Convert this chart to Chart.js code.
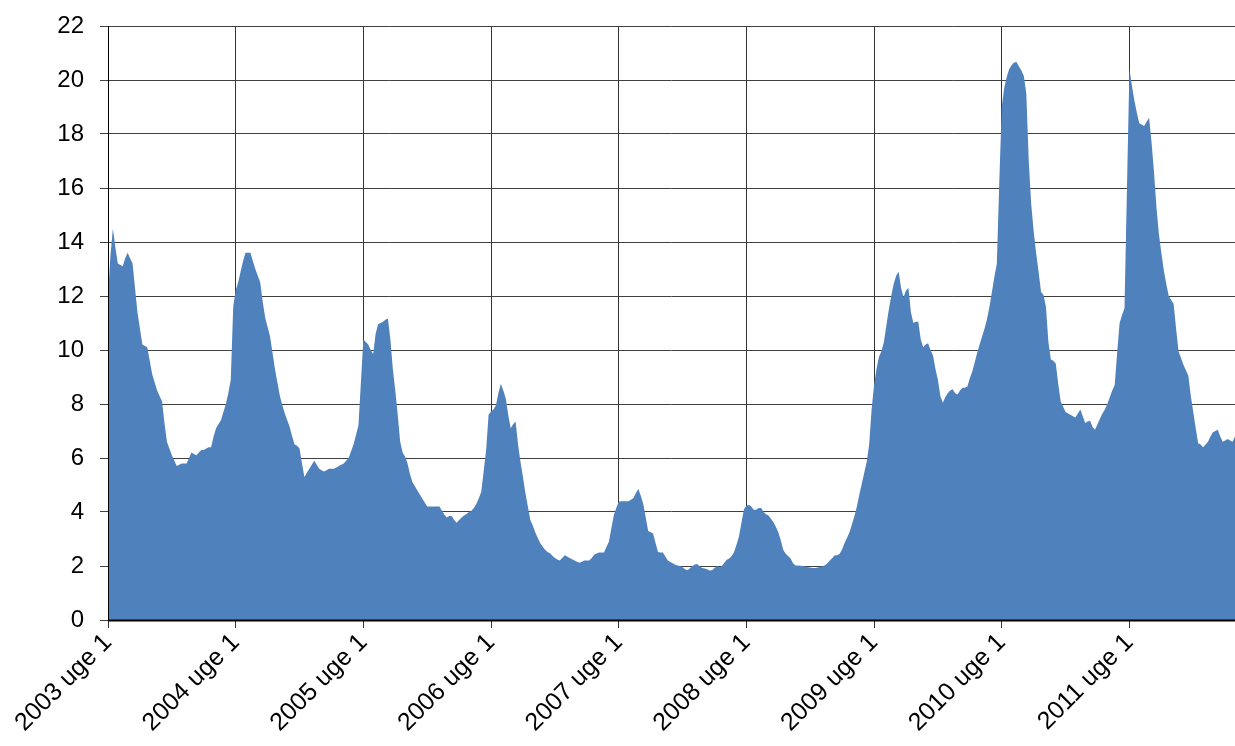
<!DOCTYPE html>
<html>
<head>
<meta charset="utf-8">
<script src="https://cdn.jsdelivr.net/npm/chart.js@4.4.1/dist/chart.umd.min.js"></script>
<style>
  html, body { margin: 0; padding: 0; background: #fff; }
  #wrap { width: 1235px; height: 746px; }
</style>
</head>
<body>
<div id="wrap"><canvas id="fluChart"></canvas></div>
<script>
const years = [2003, 2004, 2005, 2006, 2007, 2008, 2009, 2010, 2011];
const weeksShown = [52, 52, 52, 52, 52, 52, 52, 52, 44];

const w2003 = [12.0, 13.5, 14.5, 13.8, 13.2, 13.15, 13.1, 13.4, 13.6, 13.4,
  13.2, 12.3, 11.4, 10.8, 10.2, 10.15, 10.1, 9.6, 9.1, 8.8,
  8.5, 8.3, 8.1, 7.3, 6.6, 6.35, 6.1, 5.9, 5.7, 5.75,
  5.8, 5.8, 5.8, 6.0, 6.2, 6.15, 6.1, 6.2, 6.3, 6.3,
  6.35, 6.4, 6.4, 6.8, 7.1, 7.25, 7.4, 7.7, 8.0, 8.4,
  8.9, 11.6];
const w2004 = [12.2, 12.5, 12.9, 13.3, 13.6, 13.6, 13.6, 13.3, 13.0, 12.75,
  12.5, 11.8, 11.2, 10.85, 10.5, 9.9, 9.3, 8.8, 8.3, 7.95,
  7.65, 7.4, 7.15, 6.8, 6.5, 6.45, 6.35, 5.8, 5.3, 5.45,
  5.6, 5.75, 5.9, 5.75, 5.6, 5.55, 5.5, 5.55, 5.6, 5.6,
  5.6, 5.65, 5.7, 5.75, 5.8, 5.9, 6.0, 6.25, 6.5, 6.85,
  7.2, 8.8];
const w2005 = [10.4, 10.3, 10.2, 10.0, 9.85, 10.6, 10.95, 11.0, 11.05, 11.12,
  11.17, 10.4, 9.3, 8.5, 7.6, 6.6, 6.2, 6.05, 5.8, 5.4,
  5.1, 4.95, 4.8, 4.65, 4.5, 4.35, 4.2, 4.2, 4.2, 4.2,
  4.2, 4.2, 4.05, 3.9, 3.8, 3.85, 3.85, 3.7, 3.6, 3.7,
  3.8, 3.87, 3.93, 4.0, 4.05, 4.15, 4.3, 4.5, 4.75, 5.5,
  6.3, 7.6];
const w2006 = [7.72, 7.8, 7.95, 8.4, 8.75, 8.5, 8.2, 7.6, 7.1, 7.25,
  7.35, 6.5, 5.85, 5.3, 4.7, 4.2, 3.7, 3.5, 3.25, 3.05,
  2.85, 2.72, 2.6, 2.52, 2.47, 2.38, 2.3, 2.24, 2.2, 2.3,
  2.4, 2.35, 2.3, 2.25, 2.2, 2.16, 2.12, 2.16, 2.2, 2.2,
  2.2, 2.3, 2.42, 2.46, 2.5, 2.5, 2.5, 2.7, 2.9, 3.4,
  3.88, 4.15];
const w2007 = [4.38, 4.4, 4.4, 4.4, 4.4, 4.45, 4.52, 4.7, 4.85, 4.6,
  4.3, 3.8, 3.3, 3.25, 3.2, 2.85, 2.52, 2.5, 2.5, 2.35,
  2.2, 2.15, 2.1, 2.05, 2.02, 2.0, 1.95, 1.88, 1.84, 1.92,
  2.0, 2.06, 2.07, 1.98, 1.93, 1.91, 1.88, 1.83, 1.84, 1.93,
  2.0, 1.95, 2.0, 2.12, 2.23, 2.28, 2.37, 2.52, 2.8, 3.1,
  3.6, 4.1];
const w2008 = [4.22, 4.27, 4.2, 4.08, 4.08, 4.15, 4.15, 4.0, 3.92, 3.87,
  3.75, 3.62, 3.45, 3.25, 2.95, 2.6, 2.45, 2.37, 2.28, 2.1,
  2.02, 2.02, 2.01, 2.0, 1.98, 1.95, 1.94, 1.93, 1.93, 1.94,
  1.96, 1.99, 2.03, 2.1, 2.2, 2.3, 2.4, 2.4, 2.45, 2.62,
  2.85, 3.05, 3.25, 3.55, 3.85, 4.2, 4.65, 5.05, 5.45, 5.85,
  6.5, 7.8];
const w2009 = [8.7, 9.3, 9.75, 9.95, 10.3, 10.9, 11.5, 12.0, 12.45, 12.75,
  12.9, 12.3, 11.95, 12.2, 12.3, 11.4, 11.0, 11.05, 11.05, 10.4,
  10.1, 10.2, 10.25, 10.0, 9.8, 9.3, 8.9, 8.3, 8.05, 8.25,
  8.4, 8.5, 8.55, 8.4, 8.35, 8.5, 8.6, 8.6, 8.65, 8.95,
  9.2, 9.55, 9.9, 10.2, 10.5, 10.8, 11.15, 11.6, 12.15, 12.7,
  13.2, 16.2];
const w2010 = [19.0, 19.7, 20.1, 20.4, 20.55, 20.65, 20.67, 20.5, 20.35, 20.15,
  19.5, 17.0, 15.4, 14.4, 13.6, 12.9, 12.15, 12.05, 11.6, 10.3,
  9.65, 9.6, 9.5, 8.75, 8.1, 7.9, 7.7, 7.65, 7.6, 7.55,
  7.5, 7.65, 7.8, 7.55, 7.3, 7.35, 7.38, 7.15, 7.05, 7.25,
  7.45, 7.65, 7.8, 8.0, 8.25, 8.5, 8.7, 9.9, 11.0, 11.3,
  11.55, 16.0];
const w2011 = [20.4, 19.8, 19.25, 18.8, 18.4, 18.35, 18.3, 18.45, 18.6, 17.7,
  16.6, 15.3, 14.3, 13.6, 12.95, 12.45, 12.0, 11.85, 11.7, 10.8,
  9.95, 9.7, 9.45, 9.25, 9.05, 8.3, 7.7, 7.1, 6.55, 6.5,
  6.4, 6.5, 6.6, 6.8, 6.95, 7.0, 7.05, 6.8, 6.6, 6.65,
  6.7, 6.65, 6.6, 6.8];

const yTicks = [0, 2, 4, 6, 8, 10, 12, 14, 16, 18, 20, 22];

const values = [].concat(w2003, w2004, w2005, w2006, w2007, w2008, w2009, w2010, w2011);

const labels = [];
years.forEach(function(year, k) {
  for (let w = 1; w <= weeksShown[k]; w++) {
    labels.push(year + " uge " + w);
  }
});

function isYearStart(label) {
  return typeof label === "string" && label.endsWith(" uge 1");
}

// black axis lines on top of the filled area
const axisLines = {
  id: "axisLines",
  afterDatasetsDraw(chart) {
    const a = chart.chartArea;
    const ctx = chart.ctx;
    ctx.save();
    ctx.strokeStyle = "#000";
    ctx.lineWidth = 1;
    ctx.beginPath();
    ctx.moveTo(a.left + 0.5, a.top);
    ctx.lineTo(a.left + 0.5, a.bottom);
    ctx.stroke();
    ctx.lineWidth = 2;
    ctx.beginPath();
    ctx.moveTo(a.left, a.bottom + 0.5);
    ctx.lineTo(a.right, a.bottom + 0.5);
    ctx.stroke();
    ctx.restore();
  }
};

Chart.defaults.font.family = "'Liberation Sans', Arial, sans-serif";
Chart.defaults.color = "#000";

const ctx = document.getElementById("fluChart");
new Chart(ctx, {
  type: "line",
  data: {
    labels: labels,
    datasets: [{
      data: values,
      fill: "origin",
      backgroundColor: "#4F81BD",
      borderWidth: 0,
      borderColor: "#4F81BD",
      pointRadius: 0,
      tension: 0
    }]
  },
  options: {
    responsive: true,
    maintainAspectRatio: false,
    animation: false,
    layout: { padding: { top: 26, left: 0, right: 0, bottom: 0 } },
    plugins: {
      legend: { display: false },
      tooltip: { enabled: false }
    },
    scales: {
      x: {
        type: "category",
        offset: false,
        border: { display: false },
        grid: {
          color: function(c) {
            return c.tick && isYearStart(c.tick.label) ? "#333" : "rgba(0,0,0,0)";
          },
          lineWidth: 1,
          tickLength: 8
        },
        ticks: {
          autoSkip: false,
          maxRotation: 45,
          minRotation: 45,
          padding: 0,
          font: { size: 25 },
          color: "#000",
          callback: function(value) {
            const l = this.getLabelForValue(value);
            return isYearStart(l) ? l : "";
          }
        },
        afterFit: function(scale) {
          scale.height = 126;
          scale.paddingLeft = 0;
          scale.paddingRight = 0;
        }
      },
      y: {
        min: 0,
        max: 22,
        border: { display: false },
        afterBuildTicks: function(scale) {
          scale.ticks = yTicks.map(function(v) { return { value: v }; });
        },
        grid: {
          color: "#404040",
          lineWidth: 1,
          tickLength: 8
        },
        ticks: {
          padding: 16,
          font: { size: 24 },
          color: "#000"
        },
        afterFit: function(scale) {
          scale.width = 108;
          scale.paddingTop = 0;
          scale.paddingBottom = 0;
        }
      }
    }
  },
  plugins: [axisLines]
});
</script>
</body>
</html>
